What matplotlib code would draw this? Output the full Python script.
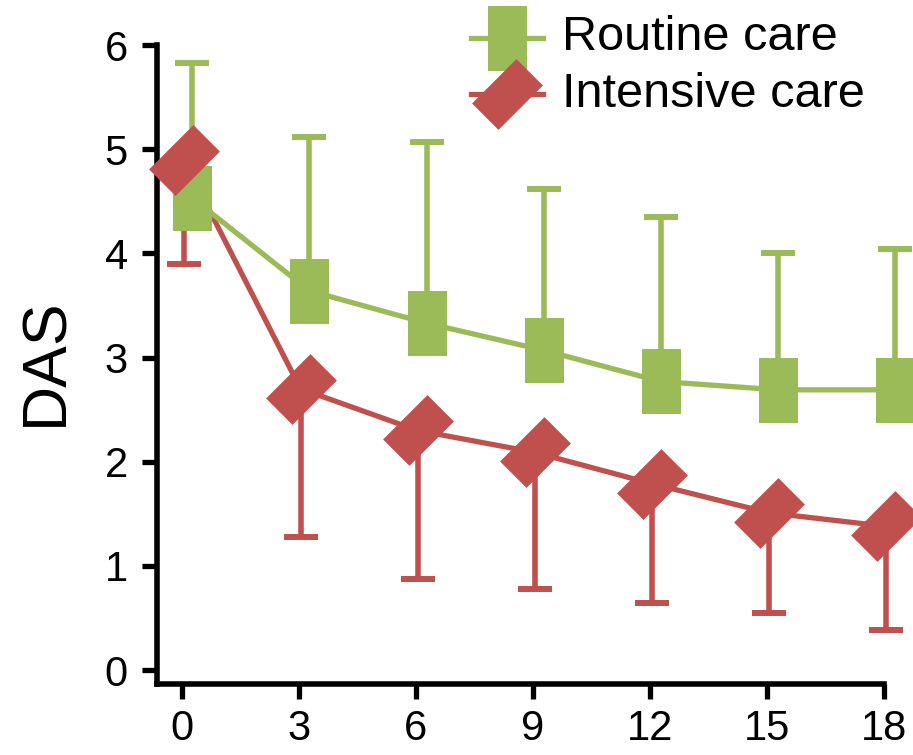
import numpy as np
import matplotlib
matplotlib.use("Agg")
import matplotlib.pyplot as plt
from matplotlib.path import Path
from matplotlib.lines import Line2D

# data
months = [0, 3, 6, 9, 12, 15, 18]
routine_mean = [4.53, 3.64, 3.33, 3.07, 2.77, 2.69, 2.69]
routine_sd = [1.30, 1.48, 1.74, 1.55, 1.58, 1.31, 1.35]
intensive_mean = [4.90, 2.70, 2.30, 2.09, 1.79, 1.51, 1.38]
intensive_sd = [1.00, 1.42, 1.43, 1.31, 1.15, 0.96, 1.00]
labels = ["Routine care", "Intensive care"]

green = "#9BBB59"
red = "#C0504D"

plt.rcParams['font.family'] = ['Liberation Sans', 'DejaVu Sans']

# tall rectangle and tilted rectangle markers
rect_marker = Path([(-0.3, -0.5), (0.3, -0.5), (0.3, 0.5), (-0.3, 0.5), (-0.3, -0.5)],
                   [Path.MOVETO, Path.LINETO, Path.LINETO, Path.LINETO, Path.CLOSEPOLY])
diamond_marker = Path([(35.5, 9.0), (9.0, 35.5), (-35.5, -9.0), (-9.0, -35.5), (35.5, 9.0)],
                      [Path.MOVETO, Path.LINETO, Path.LINETO, Path.LINETO, Path.CLOSEPOLY])
rect_ms = 46.8
diamond_ms = 51

fig = plt.figure(figsize=(9.13, 7.55), dpi=100)
ax = fig.add_axes([157 / 913, 1 - 684 / 755, 727 / 913, 639 / 755])

x = np.array(months, dtype=float)
zeros = np.zeros(len(months))
x_red = x + 0.04
x_green = x + 0.27

# error bars (one-sided)
eb_r = ax.errorbar(x_red, intensive_mean, yerr=[intensive_sd, zeros], fmt='none', ecolor=red,
                   elinewidth=4, capsize=12, capthick=4.3, zorder=2)
eb_g = ax.errorbar(x_green, routine_mean, yerr=[zeros, routine_sd], fmt='none', ecolor=green,
                   elinewidth=4, capsize=12, capthick=4.3, zorder=3)
for eb in (eb_r, eb_g):
    for art in list(eb.lines[1]) + list(eb.lines[2]):
        art.set_clip_on(False)

# lines and markers
ax.plot(x_red, intensive_mean, color=red, lw=3.8, zorder=2, clip_on=False)
ax.plot(x_green, routine_mean, color=green, lw=3.8, marker=rect_marker, ms=rect_ms,
        mew=0, zorder=3, clip_on=False)
ax.plot(x_red, intensive_mean, ls='none', marker=diamond_marker, ms=diamond_ms,
        mew=0, color=red, zorder=4, clip_on=False)

ax.set_xlim(-0.64, 18)
ax.set_ylim(-0.134, 6)
ax.set_xticks(months)
ax.set_yticks(range(0, 7))

for side in ['top', 'right']:
    ax.spines[side].set_visible(False)
for side in ['left', 'bottom']:
    ax.spines[side].set_linewidth(4)
    ax.spines[side].set_capstyle('projecting')
ax.tick_params(axis='both', direction='out', length=11, width=3.8, labelsize=30)
ax.tick_params(axis='y', pad=10)
ax.tick_params(axis='x', pad=7)

ax.set_ylabel("DAS", fontsize=45)
ax.yaxis.set_label_coords(-0.112, 0.504)

handles = [
    Line2D([], [], color=green, lw=3.8, marker=rect_marker, ms=rect_ms, mew=0),
    Line2D([], [], color=red, lw=3.8, marker=diamond_marker, ms=diamond_ms, mew=0),
]
ax.legend(handles, labels, loc='upper left', bbox_to_anchor=(471 / 913, 1 - 15 / 755),
          bbox_transform=fig.transFigure, frameon=False, fontsize=35,
          handlelength=1.48, handleheight=0.05, handletextpad=0.4, labelspacing=0.24,
          borderpad=0, borderaxespad=0)

fig.savefig("out.png", dpi=100)
